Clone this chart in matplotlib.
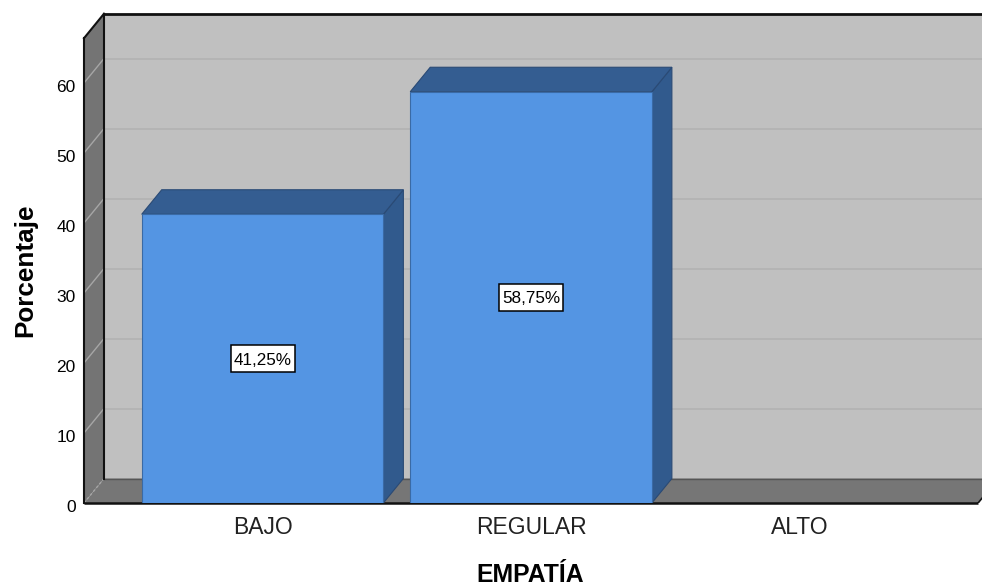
import matplotlib.pyplot as plt
from matplotlib.patches import Polygon, Rectangle
from matplotlib.transforms import ScaledTranslation

plt.rcParams['font.family'] = ['Liberation Sans', 'DejaVu Sans']

# Data
categories = ['BAJO', 'REGULAR', 'ALTO']
percentages = [41.25, 58.75, 0.0]
value_labels = ['41,25%', '58,75%', '']
y_ticks = [0, 10, 20, 30, 40, 50, 60]
x_title = 'EMPATÍA'
y_title = 'Porcentaje'

# Colours
wall_back = '#c0c0c0'
wall_side = '#747474'
floor_col = '#767676'
grid_back = '#b2b2b2'
grid_side = '#a6a6a6'
bar_front = '#5495e3'
bar_top = '#345d91'
bar_side = '#315a8d'

fig = plt.figure(figsize=(9.82, 5.87), dpi=100)
ax = fig.add_axes([84 / 982, 84 / 587, 898 / 982, 489 / 587])

# scale: one category = 268.5 px, one percent = 7 px
x0 = -0.665                 # front-left edge of the plot box
x_end = x0 + 898 / 268.5
xr = 2.665                  # front-right edge of the floor
dx = 20 / 268.5             # depth offset (x)
dy = 24.5 / 7               # depth offset (y)
top = 66.4
ax.set_xlim(x0, x_end)
ax.set_ylim(0, 489 / 7)
for s in ax.spines.values():
    s.set_visible(False)
ax.set_facecolor('none')

# back wall
ax.add_patch(Polygon([(x0 + dx, dy), (x_end + 1, dy), (x_end + 1, top + dy),
                      (x0 + dx, top + dy)], closed=True, fc=wall_back, ec='none', zorder=0))
# left wall
ax.add_patch(Polygon([(x0, 0), (x0 + dx, dy), (x0 + dx, top + dy), (x0, top)],
                     closed=True, fc=wall_side, ec='none', zorder=0.5, clip_on=False))
# floor
ax.add_patch(Polygon([(x0, 0), (xr, 0), (xr + dx, dy), (x0 + dx, dy)],
                     closed=True, fc=floor_col, ec='none', zorder=0.5))

# grid lines on back and side walls
for v in y_ticks[1:]:
    ax.plot([x0 + dx, x_end], [v + dy, v + dy], color=grid_back, lw=1.2, zorder=0.6)
    ax.plot([x0, x0 + dx], [v, v + dy], color=grid_side, lw=1.0, zorder=0.6)
ax.plot([x0, x0 + dx], [0, dy], color=grid_side, lw=1.0, ls=(0, (2, 1.5)), zorder=0.6)

# outlines
ax.plot([x0 + dx, x_end], [dy, dy], color='#555555', lw=1.0, zorder=0.7)
ax.plot([x0, xr], [0, 0], color='#111111', lw=1.8, zorder=0.8, clip_on=False,
        solid_capstyle='butt')
ax.plot([xr, xr + dx], [0, dy], color='#111111', lw=1.2, zorder=0.8)
ax.plot([x0, x0], [0, top], color='#111111', lw=1.5, zorder=0.8, clip_on=False)
ax.plot([x0 + dx, x0 + dx], [dy, top + dy], color='#111111', lw=1.5, zorder=0.8,
        clip_on=False)
ax.plot([x0, x0 + dx], [top, top + dy], color='#111111', lw=1.5, zorder=0.8,
        clip_on=False)
ax.plot([x0 + dx, x_end], [top + dy, top + dy], color='#111111', lw=2.0, zorder=0.8,
        clip_on=False, solid_capstyle='butt')

# 3-D bars
bw = 0.9
box_w, box_h = 0.64, 0.265   # label box size in inches
for i, (val, lab) in enumerate(zip(percentages, value_labels)):
    if val <= 0:
        continue
    l, r = i - bw / 2, i + bw / 2
    ax.add_patch(Polygon([(r, 0), (r + dx, dy), (r + dx, val + dy), (r, val)],
                         closed=True, fc=bar_side, ec='#2a4a75', lw=0.8, zorder=2))
    ax.add_patch(Polygon([(l, val), (r, val), (r + dx, val + dy), (l + dx, val + dy)],
                         closed=True, fc=bar_top, ec='#2a4a75', lw=0.8, zorder=2))
    ax.add_patch(Polygon([(l, 0), (r, 0), (r, val), (l, val)],
                         closed=True, fc=bar_front, ec='#3a6aa5', lw=0.8, zorder=3))
    anchor = fig.dpi_scale_trans + ScaledTranslation(i, val / 2, ax.transData)
    ax.add_patch(Rectangle((-box_w / 2, -box_h / 2), box_w, box_h, transform=anchor,
                           fc='white', ec='black', lw=1.1, zorder=4, clip_on=False))
    ax.text(i, val / 2, lab, ha='center', va='center_baseline', fontsize=12.3, zorder=5)

# ticks
ax.set_yticks(y_ticks)
ax.set_yticklabels([str(t) for t in y_ticks])
ax.set_xticks(range(len(categories)))
ax.set_xticklabels(categories)
ax.tick_params(axis='y', length=0, pad=6, labelsize=12.5)
ax.tick_params(axis='x', length=0, pad=9, labelsize=16.5, labelcolor='#222222')
shift = ScaledTranslation(0, -3 / 100, fig.dpi_scale_trans)
for t in ax.get_yticklabels():
    t.set_transform(t.get_transform() + shift)

# axis titles
fig.text(530 / 982, 1 - 582 / 587, x_title, ha='center', va='baseline',
         fontsize=17.8, fontweight='bold')
fig.text(32 / 982, 1 - 270 / 587, y_title, ha='center', va='baseline', rotation=90,
         rotation_mode='anchor', fontsize=18.8, fontweight='bold')

fig.savefig('out.png', dpi=100, facecolor='white')
